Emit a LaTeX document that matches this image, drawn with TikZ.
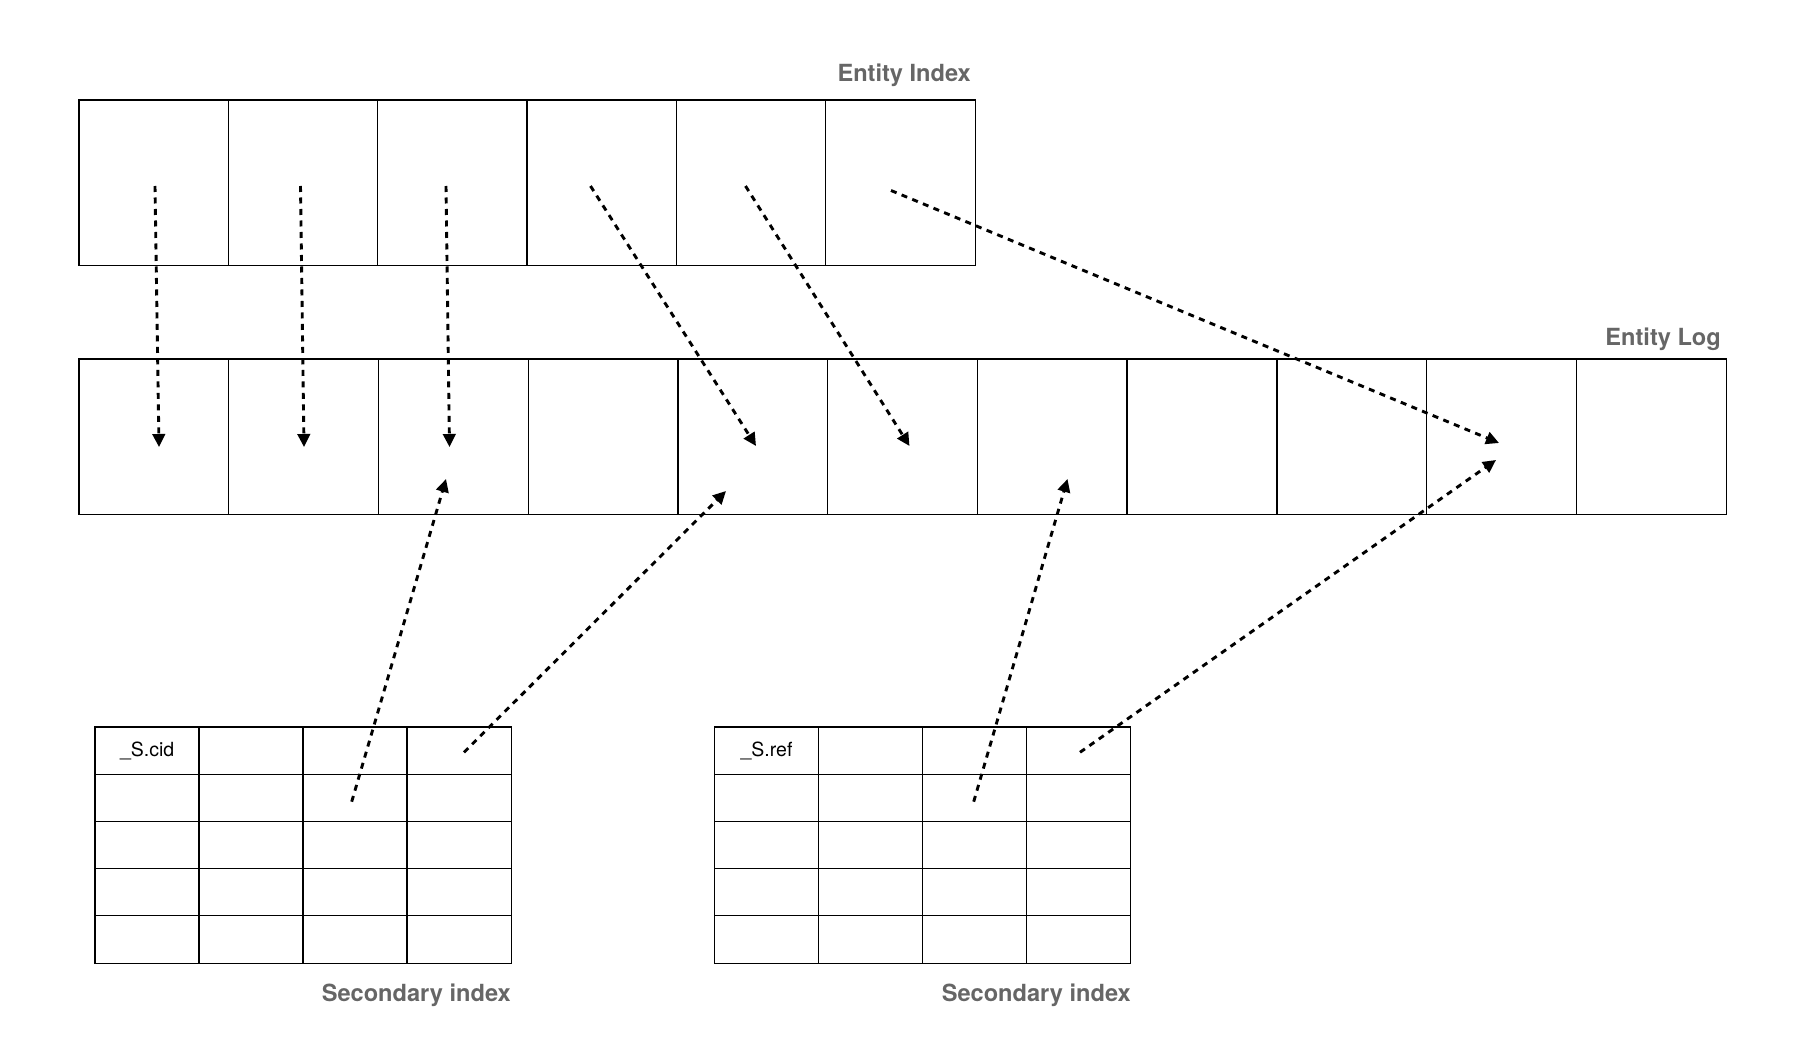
\documentclass[tikz,border=0pt]{standalone}
\usepackage{fontspec}
\setmainfont{TeX Gyre Heros}
\usetikzlibrary{arrows.meta}
\definecolor{lblgray}{HTML}{666666}
\begin{document}
\begin{tikzpicture}[x=1pt,y=-1pt,
  boxcell/.style={inner sep=0pt, anchor=north west},
  eicell/.style={boxcell, minimum width=149.33pt, minimum height=165pt},
  elcell/.style={boxcell, minimum width=149.73pt, minimum height=155pt},
  sicell/.style={boxcell, minimum width=104pt, minimum height=47.2pt},
  gridline/.style={line width=1.3pt},
  celltext/.style={font=\fontsize{19.5}{22}\selectfont, inner sep=0pt},
  lbl/.style={font=\fontsize{23.6}{26}\selectfont\bfseries, text=lblgray, inner sep=0pt, anchor=base east},
  ptr/.style={line width=2.9pt, dash pattern=on 6pt off 5.5pt, -{Triangle[length=13pt,width=12.5pt]}}]
\useasboundingbox[fill=white] (0,0) rectangle (1798,1040);

% Entity Index
\foreach \i in {0,...,5}
  \node[eicell] (ei\i) at ({79+149.33*\i},100) {};
\draw[gridline] (ei0.north west) rectangle (ei5.south east);
\foreach \i in {1,...,5}
  \draw[gridline] (ei\i.north west) -- (ei\i.south west);
\node[lbl] (eilbl) at (971,81.5) {Entity Index};

% Entity Log
\foreach \i in {0,...,10}
  \node[elcell] (el\i) at ({79+149.73*\i},359) {};
\draw[gridline] (el0.north west) rectangle (el10.south east);
\foreach \i in {1,...,10}
  \draw[gridline] (el\i.north west) -- (el\i.south west);
\node[lbl] (ellbl) at (1721,345.5) {Entity Log};

% Secondary index tables
\foreach \c in {0,...,3}
  \foreach \r in {0,...,4} {
    \node[sicell] (sa\c\r) at ({95+104*\c},{727+47.2*\r}) {};
    \node[sicell] (sb\c\r) at ({714.3+104*\c},{727+47.2*\r}) {};
  }
\foreach \t in {sa,sb} {
  \draw[gridline] (\t00.north west) rectangle (\t34.south east);
  \foreach \c in {1,2,3}
    \draw[gridline] (\t\c0.north west) -- (\t\c4.south west);
  \foreach \r in {1,...,4}
    \draw[gridline] (\t0\r.north west) -- (\t3\r.north east);
}
\node[celltext] (scid) at (sa00.center) {\_S.cid};
\node[celltext] (sref) at (sb00.center) {\_S.ref};
\node[lbl] (salbl) at (511,1001.5) {Secondary index};
\node[lbl] (sblbl) at (1131,1001.5) {Secondary index};

% arrow end points
\coordinate (a1s) at (155,186);   \coordinate (a1e) at (159,447);
\coordinate (a2s) at (300.5,186); \coordinate (a2e) at (304,447);
\coordinate (a3s) at (446,186);   \coordinate (a3e) at (449.5,447);
\coordinate (a4s) at (590.5,186); \coordinate (a4e) at (756,446);
\coordinate (a5s) at (745.5,186); \coordinate (a5e) at (909.5,446);
\coordinate (a6s) at (891,190.5); \coordinate (a6e) at (1499,443);
\coordinate (a7s) at (351.7,801.7); \coordinate (a7e) at (446,479);
\coordinate (a8s) at (464,752.3); \coordinate (a8e) at (726,491);
\coordinate (a9s) at (973.7,801.7); \coordinate (a9e) at (1067.5,479);
\coordinate (a10s) at (1080,752.3); \coordinate (a10e) at (1496,460);

\foreach \k in {1,...,10}
  \draw[ptr] (a\k s) -- (a\k e);
\end{tikzpicture}
\end{document}
